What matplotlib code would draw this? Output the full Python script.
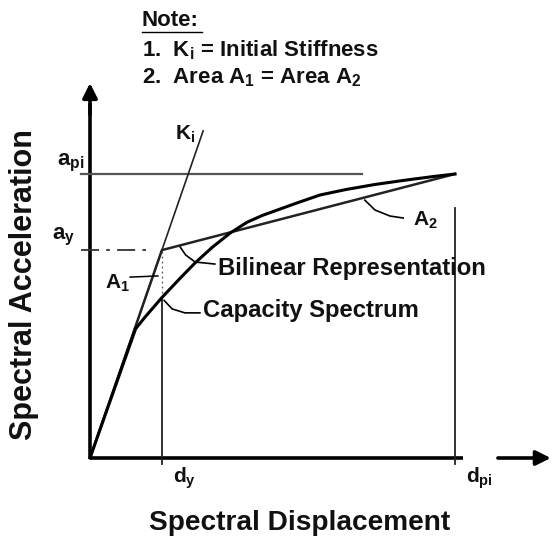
import matplotlib
matplotlib.use("Agg")
import matplotlib.pyplot as plt
import numpy as np

plt.rcParams['font.family'] = ['Liberation Sans', 'DejaVu Sans']
plt.rcParams['mathtext.fontset'] = 'custom'
plt.rcParams['mathtext.rm'] = 'Liberation Sans'
plt.rcParams['mathtext.bf'] = 'Liberation Sans:bold'

# normalised units: d_pi = 1, a_pi = 1
d_y, a_y = 0.197, 0.732
d_pi, a_pi = 1.0, 1.0

# capacity spectrum
cap_d = [0.0, 0.125, 0.150, 0.197, 0.250, 0.288, 0.335, 0.384, 0.430, 0.474,
         0.567, 0.630, 0.700, 0.780, 0.868, 0.940, 1.0]
cap_a = [0.0, 0.455, 0.495, 0.565, 0.637, 0.687, 0.742, 0.792, 0.830, 0.855,
         0.898, 0.926, 0.945, 0.963, 0.979, 0.991, 1.0]

# bilinear representation
bil_d = [0.0, d_y, d_pi]
bil_a = [0.0, a_y, a_pi]

# initial stiffness line
ki_d = [0.0, 0.31]
ki_a = [0.0, 0.31 * a_y / d_y]

fig = plt.figure(figsize=(5.56, 5.40), dpi=100)
ax = fig.add_axes([0, 0, 1, 1])
ax.set_xlim(-90 / 365, 466 / 365)
ax.set_ylim(-82 / 284, 458 / 284)
ax.axis('off')

# axes with arrows
ax.plot([0, 1.022], [0, 0], color='k', lw=2.6, solid_capstyle='butt')
ax.plot([0, 0], [0, 1.25], color='k', lw=2.6, solid_capstyle='butt')
ax.annotate('', xy=(1.27, 0), xytext=(1.11, 0),
            arrowprops=dict(arrowstyle='-|>', lw=2.6, color='k', mutation_scale=22))
ax.annotate('', xy=(0, 1.33), xytext=(0, 1.2),
            arrowprops=dict(arrowstyle='-|>', lw=2.6, color='k', mutation_scale=22))

# reference lines
ax.plot([-0.025, 0.745], [a_pi, a_pi], color='#555555', lw=1.6)
ax.plot([-0.025, 0.16], [a_y, a_y], color='#333333', lw=1.3, ls=(0, (10, 4, 2, 4)))
ax.plot([d_y, d_y], [-0.02, 0.565], color='#222222', lw=1.3)
ax.plot([d_y, d_y], [0.565, a_y], color='#555555', lw=0.9, ls=(0, (1.5, 2.5)))
ax.plot([d_pi, d_pi], [-0.02, 0.88], color='#222222', lw=1.3)

# curves
ax.plot(ki_d, ki_a, color='#222222', lw=1.2)
ax.plot(bil_d, bil_a, color='#222222', lw=1.8)
ax.plot(cap_d, cap_a, color='k', lw=2.2, solid_joinstyle='round')

# leaders
ax.plot([0.110, 0.186], [0.637, 0.641], color='k', lw=1.1)
ax.plot([0.247, 0.262, 0.288, 0.342], [0.743, 0.715, 0.690, 0.683], color='k', lw=1.2)
ax.plot([0.203, 0.225, 0.260, 0.301], [0.555, 0.525, 0.511, 0.511], color='k', lw=1.2)
ax.plot([0.753, 0.781, 0.822, 0.858], [0.908, 0.873, 0.852, 0.845], color='k', lw=1.2)

tk = dict(color='#111111', fontweight='bold')
ax.text(0.142, 1.542, 'Note:', fontsize=16, va='center', ha='left', **tk)
ax.plot([0.142, 0.306], [1.500, 1.500], color='k', lw=1.0)
ax.text(0.142, 1.437, r'1.  $\mathregular{K_i}$ = Initial Stiffness', fontsize=16, va='center', **tk)
ax.text(0.142, 1.338, r'2.  Area $\mathregular{A_1}$ = Area $\mathregular{A_2}$', fontsize=16, va='center', **tk)

ax.text(-0.016, 1.032, r'$\mathregular{a_{pi}}$', fontsize=16, ha='right', va='baseline', **tk)
ax.text(-0.041, 0.768, r'$\mathregular{a_y}$', fontsize=16, ha='right', va='baseline', **tk)
ax.text(0.260, -0.070, r'$\mathregular{d_y}$', fontsize=15, ha='center', va='center', **tk)
ax.text(1.068, -0.070, r'$\mathregular{d_{pi}}$', fontsize=15, ha='center', va='center', **tk)
ax.text(0.233, 1.120, r'$\mathregular{K_i}$', fontsize=15, ha='left', va='baseline', **tk)
ax.text(0.074, 0.616, r'$\mathregular{A_1}$', fontsize=15, ha='center', va='center', **tk)
ax.text(0.918, 0.838, r'$\mathregular{A_2}$', fontsize=15, ha='center', va='center', **tk)
ax.text(0.351, 0.669, 'Bilinear Representation', fontsize=17.2, ha='left', va='center', **tk)
ax.text(0.310, 0.521, 'Capacity Spectrum', fontsize=17.2, ha='left', va='center', **tk)

ax.text(0.575, -0.229, 'Spectral Displacement', fontsize=20.2, ha='center', va='center', **tk)
ax.text(-0.181, 0.609, 'Spectral Acceleration', fontsize=22, ha='center', va='center',
        rotation=90, **tk)

fig.savefig('out.png', dpi=100)
